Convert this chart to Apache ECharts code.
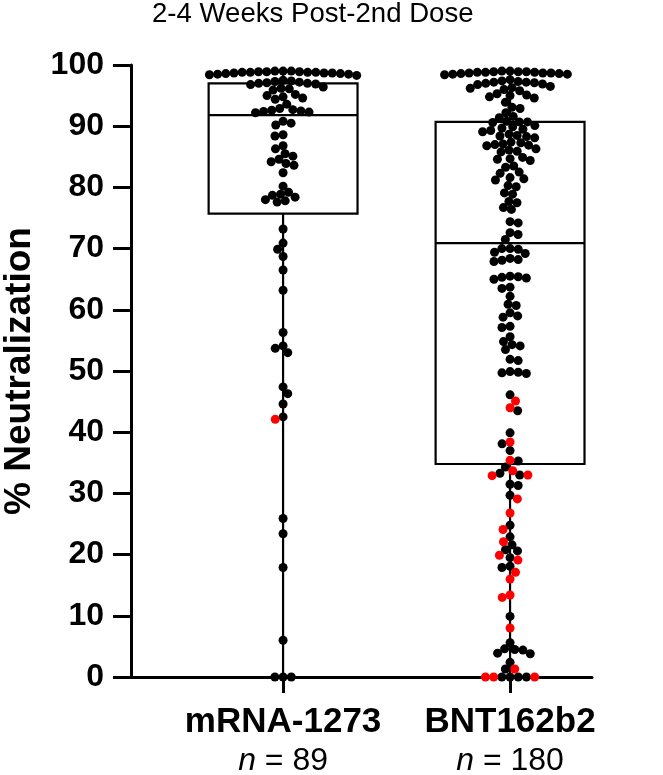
<!DOCTYPE html>
<html><head><meta charset="utf-8">
<script src="https://cdn.jsdelivr.net/npm/echarts@6/dist/echarts.min.js"></script>
<style>html,body{margin:0;padding:0;background:#fff}#c{width:663px;height:775px}</style>
</head><body><div id="c"></div>
<script>
// ---------- data ----------
const titleText = '2-4 Weeks Post-2nd Dose';
const yAxisName = '% Neutralization';
const categories = ['mRNA-1273', 'BNT162b2'];
const nValues = ['89', '180'];

const mrnaBlack = [
  99.0, 99.0, 99.0, 98.9, 98.9, 98.9, 98.8, 98.8, 98.8, 98.8, 98.7, 98.7, 98.7, 98.6, 98.6, 98.5, 98.5, 98.4, 98.3,
  97.5, 97.4, 97.3, 97.2, 97.1, 97.0, 97.0, 96.9, 96.8,
  96.4, 96.2, 96.1, 95.9,
  95.2, 95.0, 94.8, 94.6, 94.4,
  93.6,
  92.9, 92.7, 92.6, 92.5, 92.4, 92.3, 92.2,
  90.8, 90.5, 90.2,
  88.6, 88.4, 86.8, 86.3, 85.5, 85.1,
  84.6, 84.2, 83.9, 83.6, 82.4, 80.2,
  79.2, 78.9, 78.7, 78.4, 78.0, 77.8, 77.6,
  73.2, 70.9, 69.9, 68.7, 66.5, 63.2, 56.3, 54.1, 53.7, 53.0,
  47.4, 46.3, 44.6, 42.5, 25.9, 23.4, 17.9, 6.0, 0, 0, 0
];
const mrnaRed = [42.1];

const bntBlack = [
  99.0, 99.0, 98.9, 98.9, 98.9, 98.8, 98.8, 98.8, 98.7, 98.7, 98.7, 98.6, 98.6, 98.5, 98.5, 98.4,
  97.6, 97.4, 97.3, 97.2, 97.2, 97.1, 97.0, 96.9, 96.8,
  96.5, 96.3, 96.2, 96.0, 95.8,
  95.3, 95.1, 95.0, 94.8, 94.6,
  93.9, 93.1, 92.9, 92.2, 91.6, 91.4,
  90.8, 90.7, 90.7, 90.6,
  90.1, 89.9, 89.7, 89.5, 89.3, 89.1,
  88.7, 88.5, 88.4, 88.3, 88.1,
  87.4, 87.3, 87.1, 87.0, 86.9, 86.8,
  86.3, 86.1, 85.9, 85.8,
  84.9, 84.7, 84.6, 84.4,
  83.5, 83.3, 82.5, 82.3, 81.6, 81.4, 81.2, 80.3, 80.1, 79.1, 78.9,
  77.7, 77.5, 76.7, 76.4, 74.4, 74.2, 72.6, 72.3, 71.5,
  70.0, 70.0, 69.9, 69.4, 69.2, 68.4, 68.2, 68.1, 67.9,
  65.5, 65.4, 65.3, 65.2, 65.0, 63.7, 63.5, 62.2, 60.9, 60.7,
  59.5, 59.0, 58.8, 57.3, 57.1, 55.6, 54.8, 54.3, 54.1, 53.5,
  51.9, 51.7, 49.9, 49.8, 49.7, 49.6, 46.1, 43.5, 39.9, 38.1, 37.0, 35.3,
  34.3, 33.3, 33.0, 31.5, 31.3, 29.7, 24.8, 22.9, 21.6, 20.8, 20.6, 19.5,
  18.1, 17.9, 9.9, 5.6, 4.6, 4.5, 4.4, 3.9, 3.8, 2.4, 1.3, 0, 0, 0, 0
];
const bntRed = [
  45.1, 44.0, 38.4, 35.4, 33.7, 33.0, 32.9, 29.1, 26.8, 24.1, 22.1,
  19.9, 19.1, 17.1, 16.0, 13.4, 13.0, 8.0, 1.3, 0, 0, 0
];

// [min, Q1, median, Q3, max]
const mrnaBox = [0, 75.7, 91.8, 97.0, 99.0];
const bntBox = [0, 34.8, 70.9, 90.7, 99.0];

// ---------- layout ----------
const W = 663, H = 775;
const GRID = { left: 131, right: 71, top: 65, bottom: 98 };
const xMin = 0.33, xMax = 2.361;
const pxPerX = (W - GRID.left - GRID.right) / (xMax - xMin);
const pxPerY = (H - GRID.top - GRID.bottom) / 100;
const DOT = 9, SEP = 8.2;
const FONT = '"Liberation Sans", Arial, sans-serif';

function swarm(points) {
  const sorted = points.slice().sort((a, b) => b.v - a.v);
  const placed = [];
  for (const p of sorted) {
    const y = p.v * pxPerY;
    const ivs = [];
    for (const q of placed) {
      const dy = Math.abs(q.y - y);
      if (dy < SEP) { const dx = Math.sqrt(SEP * SEP - dy * dy); ivs.push([q.x - dx, q.x + dx]); }
    }
    const cands = [0];
    ivs.forEach(iv => cands.push(iv[0], iv[1]));
    cands.sort((a, b) => Math.abs(a) - Math.abs(b) || (placed.length % 2 ? a - b : b - a));
    let x = 0;
    for (const c of cands) {
      if (ivs.every(iv => c <= iv[0] + 1e-6 || c >= iv[1] - 1e-6)) { x = c; break; }
    }
    placed.push({ x, y, v: p.v, red: p.red });
  }
  return placed;
}

const groups = [
  { black: mrnaBlack, red: mrnaRed },
  { black: bntBlack, red: bntRed }
];
const blackData = [], redData = [];
groups.forEach((g, i) => {
  const pts = g.black.map(v => ({ v, red: false })).concat(g.red.map(v => ({ v, red: true })));
  swarm(pts).forEach(p => {
    const d = [i + 1 + p.x / pxPerX, p.v];
    (p.red ? redData : blackData).push(d);
  });
});

const boxData = [[1].concat(mrnaBox), [2].concat(bntBox)];
const BOX_HALF = 0.328, CAP_HALF = 0.125;

const chart = echarts.init(document.getElementById('c'), null, { renderer: 'canvas' });
chart.setOption({
  animation: false,
  backgroundColor: '#fff',
  title: {
    text: titleText, left: 152, top: 0, padding: 0,
    textStyle: { fontFamily: FONT, fontSize: 27.6, fontWeight: 'normal', color: '#000' }
  },
  grid: {
    left: GRID.left, right: GRID.right, top: GRID.top, bottom: GRID.bottom,
    containLabel: false, outerBoundsMode: 'none'
  },
  xAxis: {
    type: 'value', min: xMin, max: xMax,
    splitLine: { show: false },
    axisLine: { show: true, onZero: false, lineStyle: { color: '#000', width: 3 } },
    axisTick: { show: true, customValues: [1, 2], length: 16, lineStyle: { color: '#000', width: 3 } },
    axisLabel: {
      show: true, customValues: [1, 2], margin: 26, color: '#000', fontFamily: FONT,
      formatter: v => {
        const i = Math.round(v) - 1;
        return '{b|' + categories[i] + '}\n{n|n}{r| = ' + nValues[i] + '}';
      },
      rich: {
        b: { fontFamily: FONT, fontSize: 35, fontWeight: 'bold', color: '#000', lineHeight: 38 },
        n: { fontFamily: FONT, fontSize: 32, fontStyle: 'italic', color: '#000', lineHeight: 40 },
        r: { fontFamily: FONT, fontSize: 32, color: '#000', lineHeight: 40 }
      }
    }
  },
  yAxis: {
    type: 'value', min: 0, max: 100, interval: 10,
    name: yAxisName, nameLocation: 'middle', nameRotate: 90, nameGap: 93,
    nameTextStyle: { fontFamily: FONT, fontSize: 37, fontWeight: 'bold', color: '#000' },
    splitLine: { show: false },
    axisLine: { show: true, lineStyle: { color: '#000', width: 3 } },
    axisTick: { show: true, length: 18, lineStyle: { color: '#000', width: 3 } },
    axisLabel: { margin: 27, color: '#000', fontFamily: FONT, fontSize: 32, fontWeight: 'bold' }
  },
  series: [
    {
      type: 'custom', z: 1,
      data: boxData,
      renderItem: (params, api) => {
        const x = api.value(0);
        const lo = api.coord([x, api.value(1)]);
        const q1 = api.coord([x, api.value(2)]);
        const md = api.coord([x, api.value(3)]);
        const q3 = api.coord([x, api.value(4)]);
        const hi = api.coord([x, api.value(5)]);
        const hw = api.size([BOX_HALF, 0])[0];
        const cw = api.size([CAP_HALF, 0])[0];
        const st = { stroke: '#000', lineWidth: 2.2, fill: null };
        return {
          type: 'group',
          children: [
            { type: 'line', shape: { x1: lo[0], y1: lo[1], x2: q1[0], y2: q1[1] }, style: st },
            { type: 'line', shape: { x1: q3[0], y1: q3[1], x2: hi[0], y2: hi[1] }, style: st },
            { type: 'line', shape: { x1: hi[0] - cw, y1: hi[1], x2: hi[0] + cw, y2: hi[1] }, style: st },
            { type: 'rect', shape: { x: q3[0] - hw, y: q3[1], width: 2 * hw, height: q1[1] - q3[1] }, style: { stroke: '#000', lineWidth: 2.2, fill: 'rgba(0,0,0,0)' } },
            { type: 'line', shape: { x1: md[0] - hw, y1: md[1], x2: md[0] + hw, y2: md[1] }, style: st }
          ]
        };
      }
    },
    {
      type: 'scatter', z: 3, symbol: 'circle', symbolSize: DOT,
      itemStyle: { color: '#000', opacity: 1 }, data: blackData
    },
    {
      type: 'scatter', z: 4, symbol: 'circle', symbolSize: DOT,
      itemStyle: { color: '#ff0000', opacity: 1 }, data: redData
    }
  ]
});
</script>
</body></html>
